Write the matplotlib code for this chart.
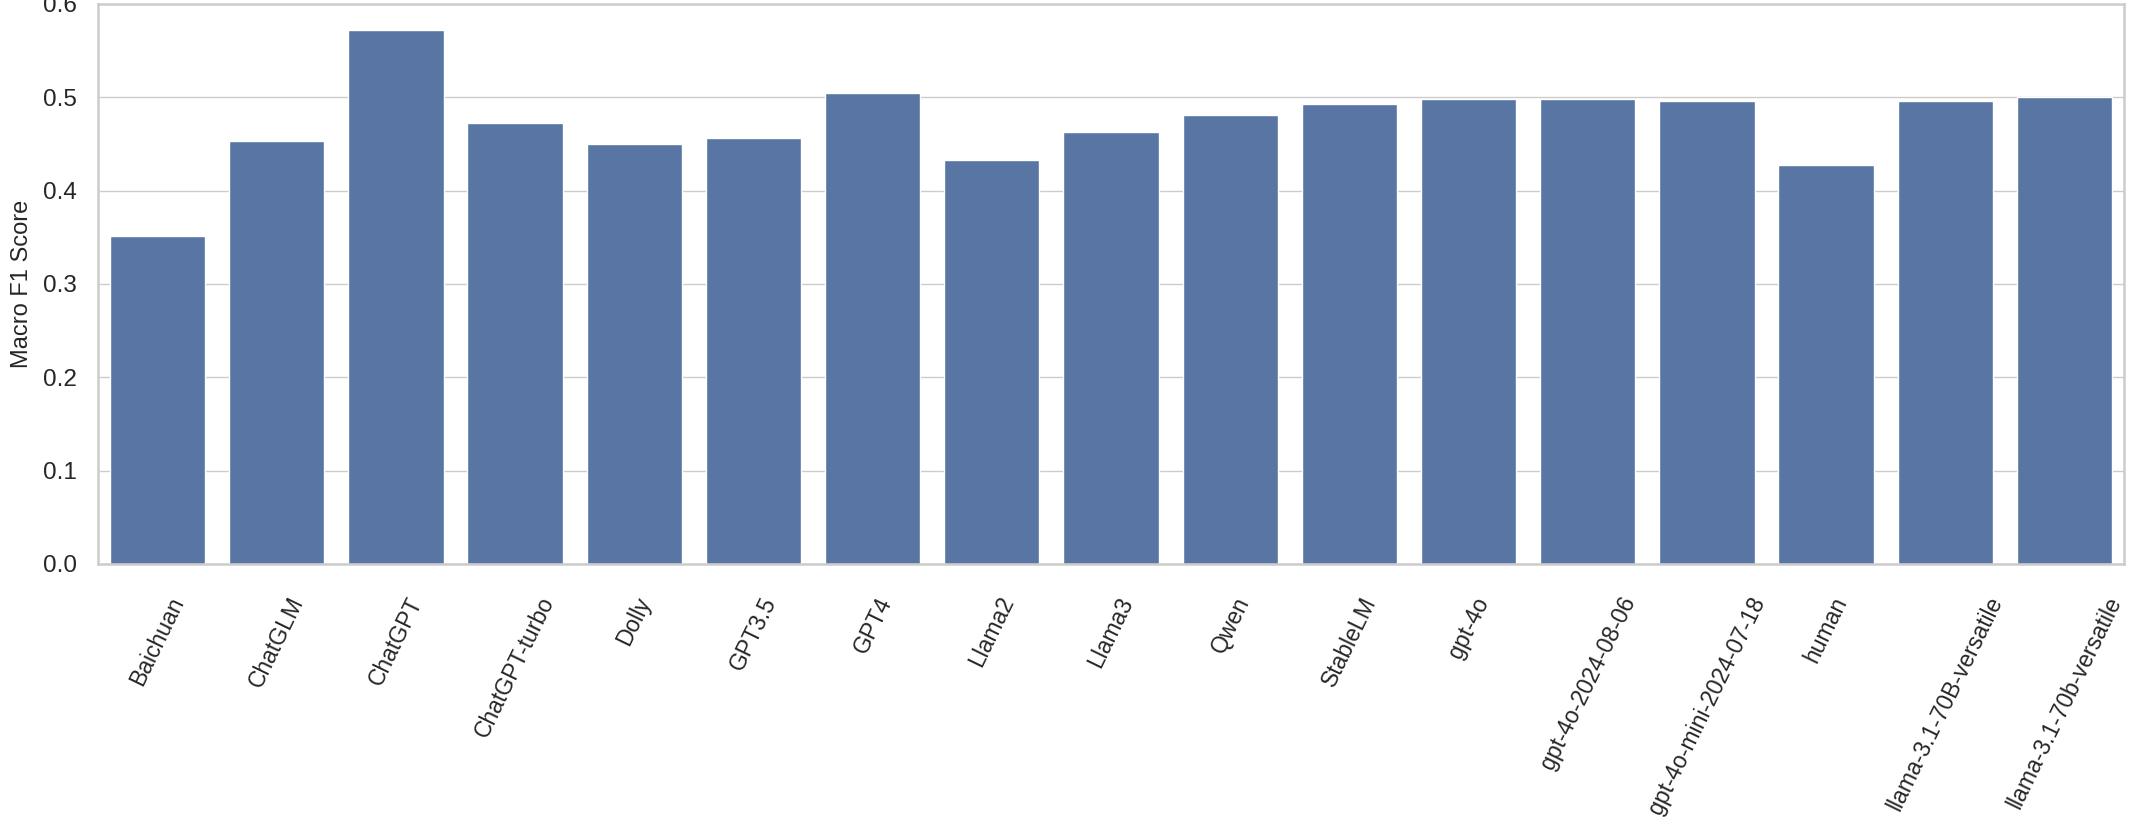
import matplotlib
matplotlib.use("Agg")
import matplotlib.pyplot as plt
import seaborn as sns
import pandas as pd

models = ["Baichuan", "ChatGLM", "ChatGPT", "ChatGPT-turbo", "Dolly", "GPT3.5", "GPT4",
          "Llama2", "Llama3", "Qwen", "StableLM", "gpt-4o", "gpt-4o-2024-08-06",
          "gpt-4o-mini-2024-07-18", "human", "llama-3.1-70B-versatile", "llama-3.1-70b-versatile"]
macro_f1 = [0.351, 0.453, 0.572, 0.473, 0.450, 0.456, 0.505,
            0.433, 0.463, 0.481, 0.493, 0.498, 0.498,
            0.496, 0.428, 0.496, 0.500]

sns.set_theme(style="whitegrid")
plt.rcParams['font.family'] = ['Liberation Sans', 'DejaVu Sans']

df = pd.DataFrame({"model": models, "f1": macro_f1})

fig = plt.figure(figsize=(21.3, 8.18), dpi=100)
ax = fig.add_axes([98/2130, 1 - 564/818, (2124 - 98)/2130, (564 - 4)/818])
sns.barplot(data=df, x="model", y="f1", color="#4c72b0", ax=ax)
ax.set_ylim(0, 0.6)
ax.set_xlabel("")
ax.set_ylabel("Macro F1 Score", fontsize=17, labelpad=7, color="#262626")
ax.tick_params(axis='y', labelsize=17.5, pad=9)
ax.tick_params(axis='x', labelsize=16.5, pad=15)
plt.setp(ax.get_xticklabels(), rotation=64)
for s in ax.spines.values():
    s.set_color("#cccccc")
    s.set_linewidth(1.8)

fig.savefig("out.png", dpi=100)
